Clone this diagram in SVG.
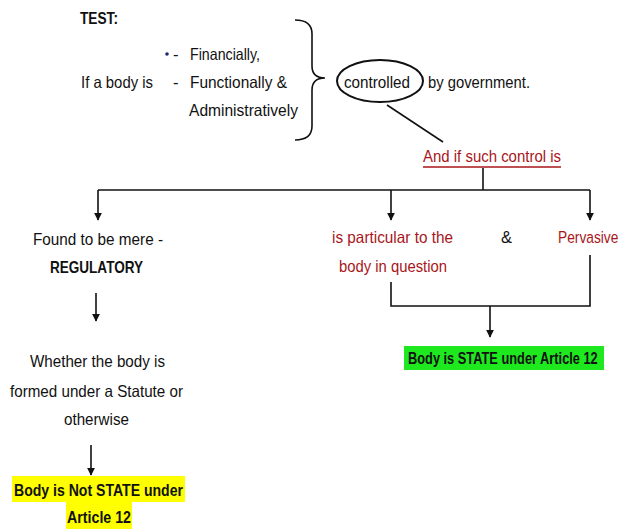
<svg xmlns="http://www.w3.org/2000/svg" width="623" height="529" viewBox="0 0 623 529">
  <style>
    text { font-family: "Liberation Sans", Arial, sans-serif; font-size: 16.5px; fill: #111; }
    .b { font-weight: bold; }
    .red { fill: #a8161b; }
    .ln { fill: none; stroke: #111; stroke-width: 1.6; }
  </style>
  <defs>
    <marker id="ah" viewBox="0 0 10 10" refX="9" refY="5" markerWidth="8" markerHeight="8" markerUnits="userSpaceOnUse" orient="auto">
      <path d="M0,0 L10,5 L0,10 z" fill="#111"/>
    </marker>
  </defs>

  <rect width="623" height="529" fill="#fff"/>

  <!-- the test statement -->
  <g id="test">
    <text class="b" x="80" y="24" textLength="38" lengthAdjust="spacingAndGlyphs">TEST:</text>
    <text x="81" y="88" textLength="72" lengthAdjust="spacingAndGlyphs">If a body is</text>
    <circle cx="167" cy="54" r="1.8" fill="#1f2a6b"/>
    <text x="173" y="60">-</text>
    <text x="190" y="60" textLength="70" lengthAdjust="spacingAndGlyphs">Financially,</text>
    <text x="173" y="88">-</text>
    <text x="190" y="88" textLength="97" lengthAdjust="spacingAndGlyphs">Functionally &amp;</text>
    <text x="189" y="116" textLength="109" lengthAdjust="spacingAndGlyphs">Administratively</text>
    <path class="ln" d="M295,20 Q312,20 312,34 L312,66 Q312,78 325,78 Q312,78 312,90 L312,126 Q312,140 295,140"/>
  </g>

  <g id="controlled">
    <ellipse cx="380" cy="81" rx="43" ry="21" fill="none" stroke="#111" stroke-width="2"/>
    <text x="344" y="88" textLength="66" lengthAdjust="spacingAndGlyphs">controlled</text>
    <text x="428" y="88" textLength="102" lengthAdjust="spacingAndGlyphs">by government.</text>
  </g>

  <g id="control-is">
    <text class="red" x="423" y="162" textLength="138" lengthAdjust="spacingAndGlyphs">And if such control is</text>
    <line x1="423" y1="167" x2="561" y2="167" stroke="#a8161b" stroke-width="1.3"/>
  </g>

  <g id="regulatory">
    <text x="33" y="245" textLength="130" lengthAdjust="spacingAndGlyphs">Found to be mere -</text>
    <text class="b" x="50" y="273" textLength="93" lengthAdjust="spacingAndGlyphs">REGULATORY</text>
  </g>

  <g id="statute">
    <text x="30" y="367" textLength="135" lengthAdjust="spacingAndGlyphs">Whether the body is</text>
    <text x="10" y="397" textLength="173" lengthAdjust="spacingAndGlyphs">formed under a Statute or</text>
    <text x="64" y="425" textLength="65" lengthAdjust="spacingAndGlyphs">otherwise</text>
  </g>

  <g id="not-state">
    <rect x="12" y="476" width="173" height="26" fill="#ffff00"/>
    <rect x="66" y="502" width="66" height="27" fill="#ffff00"/>
    <text class="b" x="14" y="496" textLength="169" lengthAdjust="spacingAndGlyphs">Body is Not STATE under</text>
    <text class="b" x="67" y="523" textLength="64" lengthAdjust="spacingAndGlyphs">Article 12</text>
  </g>

  <g id="particular">
    <text class="red" x="332" y="243" textLength="121" lengthAdjust="spacingAndGlyphs">is particular to the</text>
    <text class="red" x="339" y="272" textLength="108" lengthAdjust="spacingAndGlyphs">body in question</text>
  </g>

  <g id="and">
    <text x="501" y="243" textLength="11" lengthAdjust="spacingAndGlyphs">&amp;</text>
  </g>

  <g id="pervasive">
    <!-- condensed horizontally to stay inside the right edge -->
    <text class="red" transform="scale(0.85,1)" x="656.5" y="243" textLength="71" lengthAdjust="spacingAndGlyphs">Pervasive</text>
  </g>

  <g id="state">
    <rect x="404" y="346" width="200" height="24" fill="#1ee81e"/>
    <!-- condensed horizontally so the bold line fits the highlight -->
    <text class="b" transform="scale(0.75,1)" x="544" y="364" textLength="253" lengthAdjust="spacingAndGlyphs">Body is STATE under Article 12</text>
  </g>

  <g id="connectors">
    <line class="ln" x1="387" y1="105" x2="443" y2="142"/>
    <polyline class="ln" points="483,168 483,190"/>
    <polyline class="ln" points="98,190 590,190"/>
    <line class="ln" x1="98" y1="190" x2="98" y2="220" marker-end="url(#ah)"/>
    <line class="ln" x1="391" y1="190" x2="391" y2="220" marker-end="url(#ah)"/>
    <line class="ln" x1="590" y1="190" x2="590" y2="220" marker-end="url(#ah)"/>
    <line class="ln" x1="96" y1="293" x2="96" y2="321" marker-end="url(#ah)"/>
    <line class="ln" x1="91" y1="445" x2="91" y2="475" marker-end="url(#ah)"/>
    <polyline class="ln" points="391,282 391,306 590,306 590,255"/>
    <line class="ln" x1="490" y1="306" x2="490" y2="337" marker-end="url(#ah)"/>
  </g>
</svg>
